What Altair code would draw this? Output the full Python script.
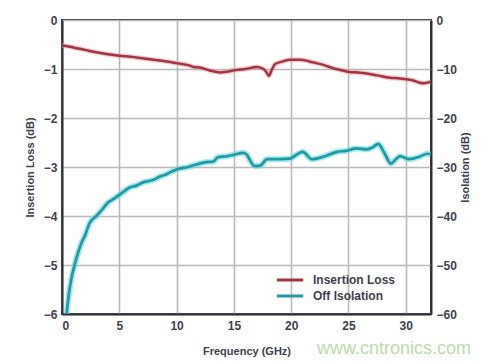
import altair as alt
import pandas as pd

# ---------------- data ----------------
il_freq = [0, 1, 2, 3, 4, 5, 6, 7, 8, 9, 10, 11, 11.5, 12, 12.9, 13.8, 14.5, 15.2,
           16, 17, 17.5, 17.8, 18.05, 18.3, 18.6, 19.2, 19.9, 20.8, 21.5, 22.2, 23,
           23.6, 24.3, 25.1, 25.8, 26.6, 27.5, 28.6, 29.3, 30.05, 30.6, 31.2, 31.6, 32.2]
il_vals = [-0.52, -0.56, -0.61, -0.66, -0.70, -0.73, -0.75, -0.78, -0.81, -0.84, -0.88,
           -0.92, -0.96, -0.97, -1.03, -1.07, -1.05, -1.02, -1.00, -0.96, -0.99, -1.05,
           -1.14, -1.02, -0.90, -0.85, -0.81, -0.81, -0.84, -0.88, -0.93, -0.98, -1.02,
           -1.06, -1.07, -1.09, -1.13, -1.18, -1.19, -1.21, -1.23, -1.28, -1.29, -1.26]

iso_freq = [0.4, 0.6, 0.8, 1.1, 1.4, 1.7, 2.0, 2.4, 3.0, 3.5, 4.0, 4.5, 5.0, 5.5, 6.0,
            6.5, 7.0, 7.5, 8.0, 8.5, 9.0, 9.5, 10.0, 11.0, 12.0, 12.6, 13.2, 13.6, 14.4,
            15.0, 15.8, 16.1, 16.4, 16.8, 17.3, 17.9, 19.0, 19.9, 20.4, 21.0, 21.8, 22.8,
            24.0, 24.8, 25.7, 26.6, 27.1, 27.6, 28.1, 28.7, 29.1, 29.5, 30.3, 31.2, 31.9, 32.2]
iso_vals = [-60, -56, -53, -50, -47.5, -45.5, -44, -41.5, -40, -38.7, -37.3, -36.5, -35.7,
            -34.8, -34.1, -33.8, -33.2, -32.9, -32.6, -32.0, -31.6, -31.0, -30.5, -30.0,
            -29.3, -29.0, -28.9, -28.0, -27.8, -27.5, -27.1, -27.4, -28.6, -29.8, -29.7,
            -28.4, -28.4, -28.3, -27.6, -26.9, -28.4, -27.9, -26.9, -26.7, -26.2, -26.4,
            -26.0, -25.3, -27.0, -29.3, -28.5, -27.8, -28.4, -27.9, -27.3, -27.4]

series_names = ["Insertion Loss", "Off Isolation"]
series_colors = ["#a8323f", "#1e9aa4"]
halo_colors = ["#e7a0a8", "#6ad9e6"]

x_ticks = [0, 5, 10, 15, 20, 25, 30]
left_ticks = [0, -1, -2, -3, -4, -5, -6]
right_ticks = [0, -10, -20, -30, -40, -50, -60]

il_df = pd.DataFrame({"f": il_freq, "v": il_vals, "series": series_names[0]})
iso_df = pd.DataFrame({"f": iso_freq, "v": iso_vals, "series": series_names[1]})

FONT = "Liberation Sans"
TXT = "#3c3f4e"

x_enc = alt.X("f:Q", scale=alt.Scale(domain=[0, 32.2], nice=False),
              axis=alt.Axis(values=x_ticks, title="Frequency (GHz)", format="d"))

left_axis = alt.Axis(values=left_ticks, title="Insertion Loss (dB)", format="d",
                     grid=True, titlePadding=8)
right_axis = alt.Axis(values=right_ticks, title="Isolation (dB)", format="d",
                      orient="right", grid=False, titleAngle=270, titlePadding=14)

color_scale = alt.Scale(domain=series_names, range=series_colors)

il_y = alt.Y("v:Q", scale=alt.Scale(domain=[-6, 0], nice=False), axis=left_axis)
iso_y = alt.Y("v:Q", scale=alt.Scale(domain=[-60, 0], nice=False), axis=right_axis)

il_halo = alt.Chart(il_df).mark_line(color=halo_colors[0], strokeWidth=5, opacity=0.5,
                                     clip=True, interpolate="monotone").encode(x=x_enc, y=il_y)
il_line = alt.Chart(il_df).mark_line(strokeWidth=2.5, clip=True, interpolate="monotone").encode(
    x=x_enc, y=il_y,
    color=alt.Color("series:N", scale=color_scale, title=None))
iso_halo = alt.Chart(iso_df).mark_line(color=halo_colors[1], strokeWidth=6, opacity=0.6,
                                       clip=True, interpolate="monotone").encode(x=x_enc, y=iso_y)
iso_line = alt.Chart(iso_df).mark_line(strokeWidth=2.7, clip=True, interpolate="monotone").encode(
    x=x_enc, y=iso_y,
    color=alt.Color("series:N", scale=color_scale, title=None))

left_layer = alt.layer(il_halo, il_line)
right_layer = alt.layer(iso_halo, iso_line)

watermark = alt.Chart(pd.DataFrame({"t": ["www.cntronics.com"]})).mark_text(
    font=FONT, fontSize=18, color="#b9dca6", align="left", baseline="middle"
).encode(text="t:N", x=alt.value(255), y=alt.value(329))

chart = alt.layer(left_layer, right_layer, watermark).resolve_scale(
    y="independent"
).properties(
    width=369, height=294,
    autosize=alt.AutoSizeParams(type="none"),
    padding={"left": 54, "top": 12, "right": 61, "bottom": 48},
    background="#ffffff",
).configure_view(
    stroke="#2e2f3a", strokeWidth=2
).configure_axis(
    labelFont=FONT, titleFont=FONT, labelFontSize=12, titleFontSize=11,
    labelFontWeight="bold", titleFontWeight="bold",
    labelColor=TXT, titleColor=TXT,
    gridColor="#b9b9bd", gridWidth=1.6, gridOpacity=1,
    domainColor="#2e2f3a", domainWidth=2, ticks=False, labelPadding=5,
).configure_axisX(
    titlePadding=14, labelPadding=6
).configure_legend(
    orient="none", legendX=213, legendY=253,
    symbolType="stroke", symbolStrokeWidth=3, symbolSize=700,
    labelFont=FONT, labelFontSize=12, labelFontWeight="bold", labelColor=TXT,
    labelOffset=8, rowPadding=2, clipHeight=14,
)

chart.save("out.html", embed_options={"renderer": "svg", "actions": False})
